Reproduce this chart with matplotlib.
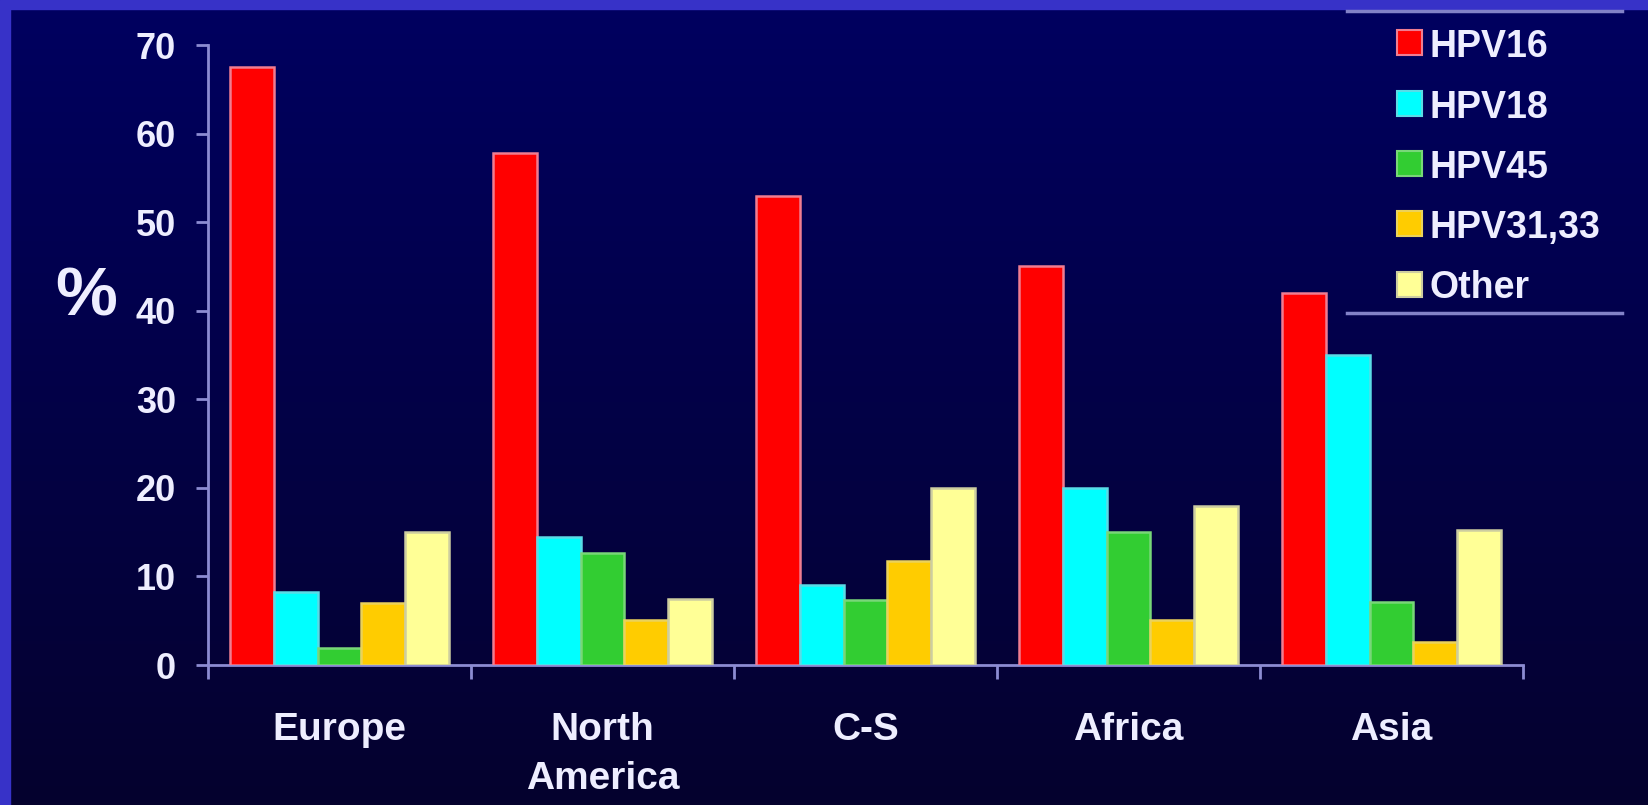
import numpy as np
import matplotlib
matplotlib.use("Agg")
import matplotlib.pyplot as plt
from matplotlib.patches import Rectangle
from matplotlib.lines import Line2D

# ---- data -------------------------------------------------------------
regions = ["Europe", "North\nAmerica", "C-S", "Africa", "Asia"]
hpv_types = ["HPV16", "HPV18", "HPV45", "HPV31,33", "Other"]
hpv16 = [67.5, 57.8, 53.0, 45.0, 42.0]
hpv18 = [8.2, 14.4, 9.0, 20.0, 35.0]
hpv45 = [1.9, 12.6, 7.3, 15.0, 7.1]
hpv31_33 = [7.0, 5.1, 11.7, 5.1, 2.6]
other = [15.0, 7.5, 20.0, 18.0, 15.2]
y_ticks = [0, 10, 20, 30, 40, 50, 60, 70]

series = [hpv16, hpv18, hpv45, hpv31_33, other]

# ---- styling ----------------------------------------------------------
def rgb(r, g, b):
    return (r / 255, g / 255, b / 255)

fill_colors = [rgb(255, 0, 0), rgb(0, 255, 255), rgb(50, 205, 50),
               rgb(255, 204, 0), rgb(255, 255, 150)]
edge_colors = [rgb(240, 125, 145), rgb(90, 220, 230), rgb(120, 215, 120),
               rgb(235, 210, 90), rgb(205, 205, 160)]
text_color = rgb(238, 238, 255)
axis_color = rgb(140, 140, 210)
font = "Liberation Sans"

W, H = 1649, 805
fig = plt.figure(figsize=(W / 100, H / 100), dpi=100)

def fx(px):
    return px / W

def fy(py):
    return 1 - py / H

# vertical navy gradient background
bg = fig.add_axes([0, 0, 1, 1], zorder=-10)
t = np.linspace(0, 1, 256)[:, None, None]
top = np.array(rgb(0, 0, 96))
bottom = np.array(rgb(5, 2, 46))
bg.imshow(top + (bottom - top) * t, aspect="auto", extent=[0, 1, 0, 1])
bg.set_xlim(0, 1)
bg.set_ylim(0, 1)
bg.axis("off")

# slide frame on the top and left edges
frame = rgb(55, 50, 200)
fig.patches.append(Rectangle((0, fy(9)), 1, 9 / H, transform=fig.transFigure,
                             color=frame, zorder=5))
fig.patches.append(Rectangle((0, 0), 10 / W, 1, transform=fig.transFigure,
                             color=frame, zorder=5))

# ---- bar chart --------------------------------------------------------
ax = fig.add_axes([fx(208), fy(665), fx(1523 - 208), (665 - 45) / H])
ax.set_facecolor("none")

x = np.arange(len(regions))
bw = 0.167
for i, vals in enumerate(series):
    ax.bar(x + (i - 2) * bw, vals, bw, color=fill_colors[i],
           edgecolor=edge_colors[i], linewidth=1.8, label=hpv_types[i],
           zorder=3)

ax.set_xlim(-0.5, len(regions) - 0.5)
ax.set_ylim(0, 70)

for side in ("top", "right"):
    ax.spines[side].set_visible(False)
for side in ("left", "bottom"):
    ax.spines[side].set_color(axis_color)
    ax.spines[side].set_linewidth(2)

ax.set_yticks(y_ticks)
ax.set_yticklabels([str(v) for v in y_ticks], fontsize=26,
                   fontweight="bold", family=font, color=text_color)
ax.tick_params(axis="y", direction="out", length=9, width=2,
               color=axis_color, pad=14)

ax.set_xticks(x)
ax.set_xticklabels(regions, fontsize=28, fontweight="bold", family=font,
                   color=text_color, va="top", linespacing=1.45)
ax.tick_params(axis="x", which="major", length=0, pad=34)
ax.set_xticks(np.arange(-0.5, len(regions)), minor=True)
ax.tick_params(axis="x", which="minor", direction="out", length=10,
               width=2, color=axis_color)

fig.text(fx(86), fy(297), "%", fontsize=50, fontweight="bold", family=font,
         color=text_color, ha="center", va="center")

# ---- legend -----------------------------------------------------------
for yy in (11, 313):
    fig.lines.append(Line2D([fx(1347), fx(1622)], [fy(yy), fy(yy)],
                            transform=fig.transFigure, color=rgb(130, 130, 200),
                            linewidth=2.5, zorder=6))

legend_rows = [43, 104, 164, 224, 284]
for i, name in enumerate(hpv_types):
    cy = legend_rows[i]
    fig.patches.append(Rectangle((fx(1397), fy(cy + 12.5)), 25 / W, 25 / H,
                                 transform=fig.transFigure,
                                 facecolor=fill_colors[i],
                                 edgecolor=edge_colors[i], linewidth=1.5,
                                 zorder=6))
    fig.text(fx(1430), fy(cy), name, fontsize=27, fontweight="bold",
             family=font, color=text_color, ha="left", va="center_baseline")

fig.savefig("out.png", dpi=100)
